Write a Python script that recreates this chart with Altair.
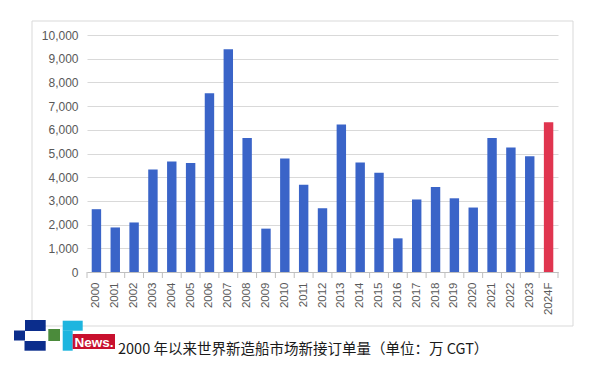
import altair as alt
import pandas as pd

years = ["2000", "2001", "2002", "2003", "2004", "2005", "2006", "2007", "2008", "2009",
         "2010", "2011", "2012", "2013", "2014", "2015", "2016", "2017", "2018", "2019",
         "2020", "2021", "2022", "2023", "2024F"]
orders = [2650, 1880, 2090, 4330, 4660, 4600, 7540, 9400, 5650, 1830,
          4790, 3680, 2690, 6220, 4620, 4190, 1420, 3060, 3590, 3110,
          2720, 5650, 5250, 4880, 6320]
kinds = ["actual"] * 24 + ["forecast"]
y_ticks = [0, 1000, 2000, 3000, 4000, 5000, 6000, 7000, 8000, 9000, 10000]
caption = "2000 年以来世界新造船市场新接订单量（单位：万 CGT）"
badge = "News."

df = pd.DataFrame({"year": years, "orders": orders, "kind": kinds})
one = pd.DataFrame({"k": [0]})

xscale = alt.Scale(domain=years, paddingInner=0, paddingOuter=0)

bars = alt.Chart(df).mark_bar(width=alt.RelativeBandSize(0.5)).encode(
    x=alt.X("year:N", sort=years, title=None, scale=xscale,
            axis=alt.Axis(labelAngle=-90, ticks=False, domainColor="#bfbfbf",
                          labelPadding=10, labelColor="#595959", labelFontSize=11.5,
                          grid=False, labelFont="Liberation Sans")),
    y=alt.Y("orders:Q", title=None,
            scale=alt.Scale(domain=[0, 10000], nice=False),
            axis=alt.Axis(values=y_ticks, labelExpr="format(datum.value, ',.0f')",
                          domain=False, ticks=False,
                          gridColor="#d9d9d9", labelColor="#595959", labelFontSize=12,
                          labelPadding=9, labelFont="Liberation Sans")),
    color=alt.Color("kind:N", legend=None,
                    scale=alt.Scale(domain=["actual", "forecast"], range=["#3a64c8", "#e0354f"])),
)

tick_start = alt.Chart(df).mark_rule(color="#bfbfbf", strokeWidth=1).encode(
    x=alt.X("year:N", sort=years, scale=xscale, bandPosition=0),
    y=alt.value(237), y2=alt.value(243))
tick_end = alt.Chart(df).transform_filter(alt.datum.year == years[-1]).mark_rule(
    color="#bfbfbf", strokeWidth=1).encode(
    x=alt.X("year:N", sort=years, scale=xscale, bandPosition=1),
    y=alt.value(237), y2=alt.value(243))

def rect(x1, x2, y1, y2, color):
    return alt.Chart(one).mark_rect(fill=color).encode(
        x=alt.value(x1), x2=alt.value(x2), y=alt.value(y1), y2=alt.value(y2))

frame = alt.Chart(one).mark_rect(filled=False, stroke="#d9d9d9", strokeWidth=1).encode(
    x=alt.value(-55), x2=alt.value(486), y=alt.value(-14), y2=alt.value(291))

logo = [
    rect(-62, -41.3, 285, 296, "#0b2d8c"),
    rect(-73, -62, 295.5, 305.5, "#0b2d8c"),
    rect(-62.5, -41.3, 306, 315.7, "#0b2d8c"),
    rect(-38.7, -27, 294, 306, "#4b8b3b"),
    rect(-24.3, -4.3, 285.7, 295.7, "#1db5df"),
    rect(-24.3, -14.3, 295.5, 315.7, "#1db5df"),
    rect(-14.3, 28, 299, 314, "#c8102e"),
]

badge_text = alt.Chart(one).mark_text(align="left", baseline="alphabetic", color="white",
                                      fontWeight="bold", fontSize=13.5,
                                      font="Liberation Sans").encode(
    x=alt.value(-12.5), y=alt.value(312), text=alt.value(badge))

cap_text = alt.Chart(one).mark_text(align="left", baseline="alphabetic", color="#1a1a1a",
                                    fontSize=14.5, font="Noto Sans CJK SC").encode(
    x=alt.value(31), y=alt.value(318.5), text=alt.value(caption))

chart = alt.layer(frame, bars, tick_start, tick_end, *logo, badge_text, cap_text).properties(
    width=471, height=237,
    autosize=alt.AutoSizeParams(type="none"),
    padding={"left": 79, "top": 27, "right": 34, "bottom": 92},
    background="white",
).configure_view(stroke=None)

chart.save("out.html", embed_options={"renderer": "svg", "actions": False})
